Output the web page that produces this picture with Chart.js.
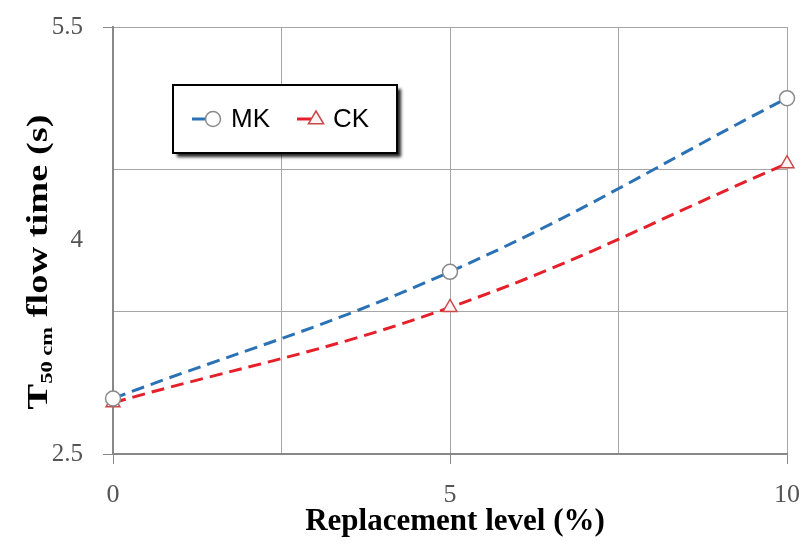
<!DOCTYPE html>
<html>
<head>
<meta charset="utf-8">
<script src="https://cdn.jsdelivr.net/npm/chart.js@4/dist/chart.umd.min.js"></script>
<style>
  html, body { margin: 0; padding: 0; background: #fff; }
  #wrap { width: 802px; height: 544px; }
</style>
</head>
<body>
<div id="wrap"><canvas id="c" width="802" height="544"></canvas></div>
<script>
// Replacement level (%) on the x axis, T50cm flow time (s) for each mix
const replacementLevels = [0, 5, 10];
const mkFlowTime = [2.89, 3.78, 5.0];
const ckFlowTime = [2.86, 3.53, 4.54];
const seriesNames = ['MK', 'CK'];

// Grid lines and labelled ticks
const xGridValues = [0, 2.5, 5, 7.5, 10];
const xTickLabels = [0, 5, 10];
const yGridValues = [2.5, 3.5, 4.5, 5.5];
const yTickLabels = [2.5, 4, 5.5];

const xTitle = 'Replacement level (%)';
const yTitleMain = 'T';
const yTitleSub = '50 cm';
const yTitleRest = ' flow time (s)';

const serif = '"Liberation Serif", "Times New Roman", serif';
const sans = '"Liberation Sans", Arial, sans-serif';
const TRANSPARENT = 'rgba(0,0,0,0)';

const toPoints = (ys) => replacementLevels.map((x, i) => ({ x: x, y: ys[i] }));

// Axis titles (with subscript) and the boxed legend
const decorations = {
  id: 'decorations',
  afterDraw(chart) {
    const ctx = chart.ctx;

    // x axis title
    ctx.save();
    ctx.font = 'bold 31px ' + serif;
    ctx.fillStyle = '#000';
    ctx.textAlign = 'center';
    ctx.textBaseline = 'middle';
    ctx.fillText(xTitle, 455, 522);
    ctx.restore();

    // y axis title, rotated, with subscript, stretched along its length
    ctx.save();
    ctx.translate(40, 262);
    ctx.rotate(-Math.PI / 2);
    ctx.fillStyle = '#000';
    ctx.textBaseline = 'middle';
    ctx.textAlign = 'left';
    const mainFont = 'bold 29px ' + serif;
    const subFont = 'bold 17px ' + serif;
    ctx.font = mainFont;
    const wT = ctx.measureText(yTitleMain).width;
    const wRest = ctx.measureText(yTitleRest).width;
    ctx.font = subFont;
    const wSub = ctx.measureText(yTitleSub).width;
    const total = wT + wSub + wRest;
    const stretch = 295 / total;
    ctx.scale(stretch, 1);
    let x0 = -total / 2;
    ctx.font = mainFont;
    ctx.fillText(yTitleMain, x0, 0);
    x0 += wT;
    ctx.font = subFont;
    ctx.fillText(yTitleSub, x0, 8);
    x0 += wSub;
    ctx.font = mainFont;
    ctx.fillText(yTitleRest, x0, 0);
    ctx.restore();

    // legend box
    const bx = 173, by = 85, bw = 224, bh = 68;
    ctx.save();
    ctx.shadowColor = 'rgba(0,0,0,0.85)';
    ctx.shadowBlur = 3;
    ctx.shadowOffsetX = 4;
    ctx.shadowOffsetY = 4;
    ctx.fillStyle = '#fff';
    ctx.fillRect(bx, by, bw, bh);
    ctx.restore();
    ctx.save();
    ctx.strokeStyle = '#000';
    ctx.lineWidth = 2;
    ctx.strokeRect(bx, by, bw, bh);

    const cy = by + bh / 2;
    const ds = chart.data.datasets;
    const items = [
      { lineX: 192, markX: 213, textX: 231 },
      { lineX: 297, markX: 316, textX: 333 }
    ];
    items.forEach((it, i) => {
      const d = ds[i];
      ctx.strokeStyle = d.borderColor;
      ctx.lineWidth = 3;
      ctx.beginPath();
      ctx.moveTo(it.lineX, cy);
      ctx.lineTo(it.markX - 4, cy);
      ctx.stroke();
      ctx.fillStyle = d.pointBackgroundColor;
      ctx.strokeStyle = d.pointBorderColor;
      ctx.lineWidth = d.pointBorderWidth;
      ctx.beginPath();
      if (d.pointStyle === 'circle') {
        ctx.arc(it.markX, cy, d.pointRadius, 0, Math.PI * 2);
      } else {
        const r = d.pointRadius;
        ctx.moveTo(it.markX, cy - r);
        ctx.lineTo(it.markX + r * 0.95, cy + r * 0.6);
        ctx.lineTo(it.markX - r * 0.95, cy + r * 0.6);
        ctx.closePath();
      }
      ctx.fill();
      ctx.stroke();
      ctx.fillStyle = '#000';
      ctx.font = '26px ' + sans;
      ctx.textAlign = 'left';
      ctx.textBaseline = 'middle';
      ctx.fillText(d.label, it.textX, cy + 1);
    });
    ctx.restore();
  }
};

new Chart(document.getElementById('c'), {
  type: 'line',
  data: {
    datasets: [
      {
        label: seriesNames[0],
        data: toPoints(mkFlowTime),
        borderColor: '#2a72b5',
        borderWidth: 3,
        borderDash: [13, 7],
        tension: 0.4,
        pointStyle: 'circle',
        pointRadius: 7.5,
        pointBackgroundColor: '#ffffff',
        pointBorderColor: '#8a8a8a',
        pointBorderWidth: 1.5,
        clip: false
      },
      {
        label: seriesNames[1],
        data: toPoints(ckFlowTime),
        borderColor: '#e5202a',
        borderWidth: 3,
        borderDash: [13, 7],
        tension: 0.4,
        pointStyle: 'triangle',
        pointRadius: 8,
        pointBackgroundColor: '#fff4f4',
        pointBorderColor: '#c84a4a',
        pointBorderWidth: 1.5,
        clip: false
      }
    ]
  },
  options: {
    responsive: false,
    animation: false,
    devicePixelRatio: 1,
    layout: { padding: { left: 0, top: 27, right: 15, bottom: 0 } },
    plugins: {
      legend: { display: false },
      tooltip: { enabled: false }
    },
    scales: {
      x: {
        type: 'linear',
        min: 0,
        max: 10,
        afterBuildTicks: (s) => { s.ticks = xGridValues.map(v => ({ value: v })); },
        afterFit: (s) => { s.height = 90; s.paddingLeft = 0; s.paddingRight = 0; },
        ticks: {
          autoSkip: false,
          maxRotation: 0,
          padding: 16,
          color: '#555',
          font: { family: serif, size: 26 },
          callback: (v) => xTickLabels.includes(v) ? String(v) : ''
        },
        grid: {
          color: '#a6a6a6',
          lineWidth: 1,
          tickLength: 10,
          tickColor: (c) => (c.tick && xTickLabels.includes(c.tick.value)) ? '#888' : TRANSPARENT
        },
        border: { display: true, color: '#888', width: 2 }
      },
      y: {
        type: 'linear',
        min: 2.5,
        max: 5.5,
        afterBuildTicks: (s) => {
          const vals = Array.from(new Set(yGridValues.concat(yTickLabels))).sort((a, b) => a - b);
          s.ticks = vals.map(v => ({ value: v }));
        },
        afterFit: (s) => { s.width = 113; s.paddingTop = 0; s.paddingBottom = 0; },
        ticks: {
          autoSkip: false,
          padding: 20,
          color: '#555',
          font: { family: serif, size: 25 },
          callback: (v) => yTickLabels.includes(v) ? String(v) : ''
        },
        grid: {
          color: (c) => (c.tick && yGridValues.includes(c.tick.value)) ? '#a6a6a6' : TRANSPARENT,
          lineWidth: 1,
          tickLength: 10,
          tickColor: (c) => (c.tick && yGridValues.includes(c.tick.value) && yTickLabels.includes(c.tick.value)) ? '#888' : TRANSPARENT
        },
        border: { display: true, color: '#888', width: 2 }
      }
    }
  },
  plugins: [decorations]
});
</script>
</body>
</html>
